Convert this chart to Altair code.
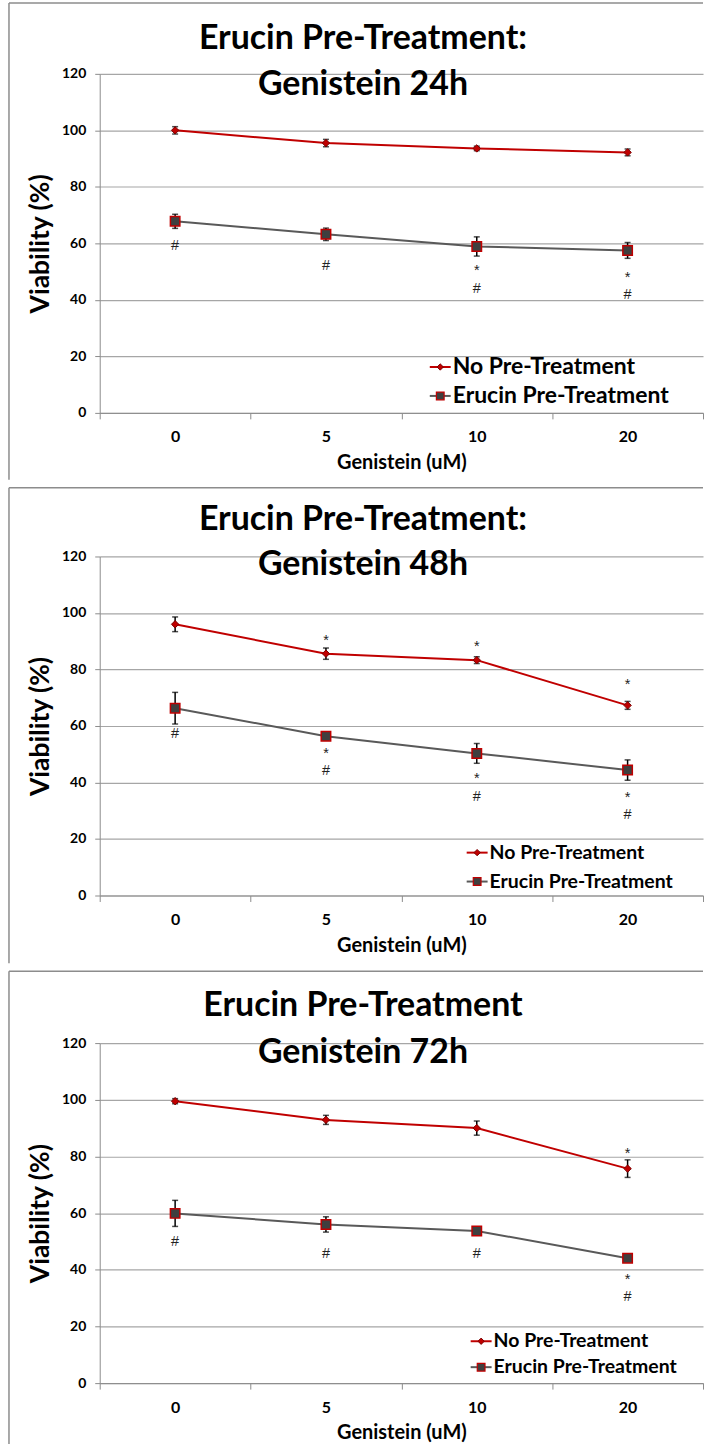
import altair as alt
import pandas as pd

FONT = "Lato"
SYM_FONT = "Liberation Sans"
RED = "#C00000"
GRAY_LINE = "#595959"
SQUARE_FILL = "#3F3F3F"
GRID = "#A6A6A6"
FRAME = "#8C8C8C"

doses = ["0", "5", "10", "20"]
series_names = ["No Pre-Treatment", "Erucin Pre-Treatment"]

# 24 h: mean viability (%) and error
no_pre_24 = [100.0, 95.5, 93.6, 92.2]
no_pre_24_err = [1.3, 1.3, 0.8, 1.2]
erucin_24 = [67.8, 63.2, 58.9, 57.5]
erucin_24_err = [2.5, 2.2, 3.4, 2.8]

# 48 h
no_pre_48 = [96.0, 85.6, 83.3, 67.3]
no_pre_48_err = [2.6, 2.0, 1.2, 1.4]
erucin_48 = [66.3, 56.4, 50.3, 44.4]
erucin_48_err = [5.6, 1.4, 3.5, 3.6]

# 72 h
no_pre_72 = [99.5, 92.9, 90.0, 75.7]
no_pre_72_err = [0.9, 1.6, 2.5, 3.1]
erucin_72 = [59.9, 56.0, 53.7, 44.1]
erucin_72_err = [4.6, 2.7, 0.5, 0.5]

# significance labels: dose, y value of the first symbol, label (stacked lines)
sig_dose_24 = ["0", "5", "10", "20"]
sig_y_24 = [58.9, 51.9, 51.5, 49.3]
sig_label_24 = ["#", "#", "*\n#", "*\n#"]

sig_dose_48 = ["5", "10", "20", "0", "5", "10", "20"]
sig_y_48 = [91.5, 89.2, 75.9, 57.0, 51.5, 42.6, 35.9]
sig_label_48 = ["*", "*", "*", "#", "*\n#", "*\n#", "*\n#"]

sig_dose_72 = ["20", "0", "5", "10", "20"]
sig_y_72 = [82.2, 49.9, 45.5, 45.7, 37.9]
sig_label_72 = ["*", "#", "#", "#", "*\n#"]

W = 605


def panel(title_lines, no_pre, no_pre_err, eru, eru_err, sig, height,
          frame_top, frame_bottom, legend_x, legend_rows, legend_size):
    df = pd.DataFrame({
        "dose": doses * 2,
        "series": [series_names[0]] * 4 + [series_names[1]] * 4,
        "mean": no_pre + eru,
        "err": no_pre_err + eru_err,
    })
    df["lo"] = df["mean"] - df["err"]
    df["hi"] = df["mean"] + df["err"]
    sig_df = pd.DataFrame({"dose": sig[0], "y": sig[1], "label": sig[2]})

    x = alt.X(
        "dose:N", sort=doses,
        scale=alt.Scale(type="band", domain=doses, paddingInner=0, paddingOuter=0),
        axis=alt.Axis(
            title="Genistein (uM)", labelAngle=0, tickBand="extent", grid=False,
            labelFont=FONT, labelFontSize=16, labelFontWeight="bold", labelColor="#000",
            titleFont=FONT, titleFontSize=20, titleFontWeight="bold", titleColor="#000",
            tickSize=6, tickColor=FRAME, domainColor=FRAME, labelPadding=10, titlePadding=8,
        ),
    )
    yscale = alt.Scale(domain=[0, 120], nice=False)
    y_axis = alt.Axis(
        title="Viability (%)", values=[0, 20, 40, 60, 80, 100, 120],
        grid=True, gridColor=GRID, gridWidth=1.2,
        labelFont=FONT, labelFontSize=14, labelFontWeight="bold", labelColor="#000",
        titleFont=FONT, titleFontSize=26.5, titleFontWeight="bold", titleColor="#000",
        tickSize=5, tickColor=FRAME, domainColor=FRAME, labelPadding=9, titlePadding=7,
    )
    base = alt.Chart(df)
    color = alt.Color("series:N", scale=alt.Scale(domain=series_names, range=[RED, GRAY_LINE]),
                      legend=None)

    lines = base.mark_line(strokeWidth=2).encode(
        x=x, y=alt.Y("mean:Q", scale=yscale, axis=y_axis), color=color, detail="series:N")
    bars = base.mark_rule(color="#000", strokeWidth=1.5).encode(
        x=x, y=alt.Y("lo:Q", scale=yscale), y2="hi:Q")
    caps_lo = base.mark_tick(color="#000", size=6, thickness=1.5).encode(
        x=x, y=alt.Y("lo:Q", scale=yscale))
    caps_hi = base.mark_tick(color="#000", size=6, thickness=1.5).encode(
        x=x, y=alt.Y("hi:Q", scale=yscale))
    diamonds = base.transform_filter(alt.datum.series == series_names[0]).mark_point(
        shape="diamond", filled=True, fill=RED, stroke="#7A0000", strokeWidth=1, size=55,
        opacity=1).encode(x=x, y=alt.Y("mean:Q", scale=yscale))
    squares = base.transform_filter(alt.datum.series == series_names[1]).mark_point(
        shape="square", filled=True, fill=SQUARE_FILL, stroke=RED, strokeWidth=1.5, size=90,
        opacity=1).encode(x=x, y=alt.Y("mean:Q", scale=yscale))
    sig_base = alt.Chart(sig_df)
    hashes = sig_base.transform_filter(alt.datum.label == "#").mark_text(
        font=SYM_FONT, fontSize=14.5, color="#222", baseline="middle").encode(
        x=x, y=alt.Y("y:Q", scale=yscale), text="label:N")
    # labels led by an asterisk (which sits high in the em box), stacked over a '#'
    stars = sig_base.transform_filter(alt.datum.label != "#").mark_text(
        font=SYM_FONT, fontSize=14.5, color="#222", baseline="top", dy=-3,
        lineBreak="\n", lineHeight=17.5).encode(
        x=x, y=alt.Y("y:Q", scale=yscale), text="label:N")

    one = pd.DataFrame({"k": [0]})
    # title lines drawn over the plot, centred on the panel
    titles = [
        alt.Chart(one).mark_text(text=t, font=FONT, fontSize=34, fontWeight="bold",
                                 color="#000", baseline="middle", align="center").encode(
            x=alt.value(264), y=alt.value(ty))
        for t, ty in title_lines
    ]
    # panel frame
    frame = [
        alt.Chart(one).mark_rule(color=FRAME, strokeWidth=1.5).encode(
            x=alt.value(-91), x2=alt.value(W), y=alt.value(frame_top)),
        alt.Chart(one).mark_rule(color=FRAME, strokeWidth=1.5).encode(
            x=alt.value(-91), y=alt.value(frame_top), y2=alt.value(frame_bottom)),
    ]
    if frame_bottom < height + 60:
        frame.append(alt.Chart(one).mark_rule(color=FRAME, strokeWidth=1.5).encode(
            x=alt.value(-91), x2=alt.value(W), y=alt.value(frame_bottom)))

    # legend: line with marker, then label
    leg = []
    for i, (name, ly) in enumerate(zip(series_names, legend_rows)):
        c = RED if i == 0 else GRAY_LINE
        leg.append(alt.Chart(one).mark_rule(color=c, strokeWidth=2).encode(
            x=alt.value(legend_x), x2=alt.value(legend_x + 21), y=alt.value(ly)))
        if i == 0:
            leg.append(alt.Chart(one).mark_point(
                shape="diamond", filled=True, fill=RED, stroke="#7A0000", strokeWidth=1,
                size=40, opacity=1).encode(x=alt.value(legend_x + 10.5), y=alt.value(ly)))
        else:
            leg.append(alt.Chart(one).mark_point(
                shape="square", filled=True, fill=SQUARE_FILL, stroke=RED, strokeWidth=1.2,
                size=60, opacity=1).encode(x=alt.value(legend_x + 10.5), y=alt.value(ly)))
        leg.append(alt.Chart(one).mark_text(
            text=name, font=FONT, fontSize=legend_size, fontWeight="bold", color="#000",
            align="left", baseline="middle").encode(x=alt.value(legend_x + 23), y=alt.value(ly)))

    return alt.layer(*frame, lines, bars, caps_lo, caps_hi, diamonds, squares, hashes, stars,
                     *titles, *leg).properties(width=W, height=height)


p24 = panel([("Erucin Pre-Treatment:", -35), ("Genistein 24h", 11)],
            no_pre_24, no_pre_24_err, erucin_24, erucin_24_err,
            (sig_dose_24, sig_y_24, sig_label_24), 340, -71, 407, 331, [294, 323], 23)
p48 = panel([("Erucin Pre-Treatment:", -37), ("Genistein 48h", 9)],
            no_pre_48, no_pre_48_err, erucin_48, erucin_48_err,
            (sig_dose_48, sig_y_48, sig_label_48), 340, -69, 408, 368, [297, 326], 19.5)
p72 = panel([("Erucin Pre-Treatment", -37), ("Genistein 72h", 10)],
            no_pre_72, no_pre_72_err, erucin_72, erucin_72_err,
            (sig_dose_72, sig_y_72, sig_label_72), 341, -72, 402, 372, [299, 325], 19.5)

chart = alt.vconcat(p24, p48, p72, spacing=6).properties(
    padding={"left": 8, "top": 0, "right": 0, "bottom": 0},
    background="white",
).configure_view(stroke=None)

chart.save("out.html", embed_options={"renderer": "svg", "actions": False})
